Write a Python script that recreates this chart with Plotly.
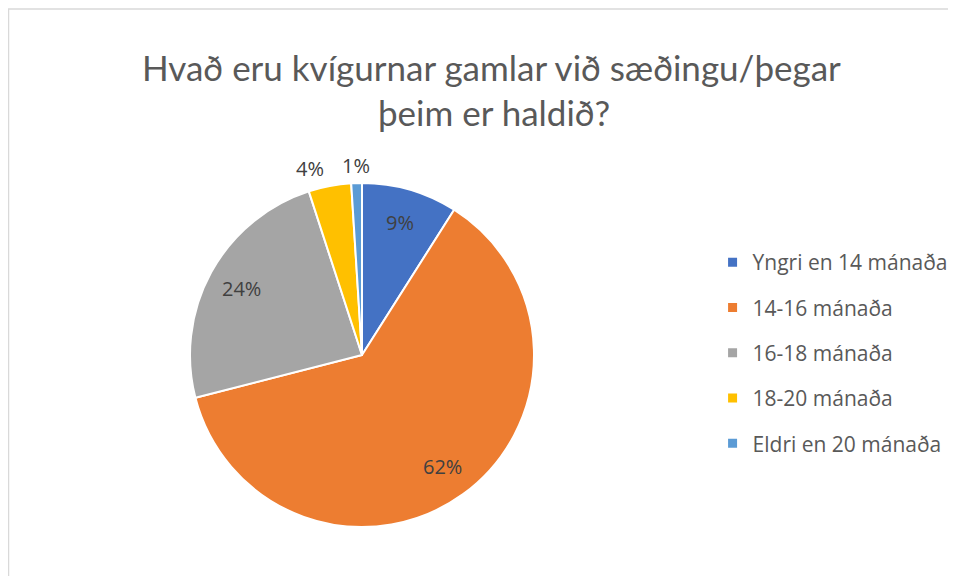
import numpy as np
import plotly.graph_objects as go

categories = ["Yngri en 14 mánaða", "14-16 mánaða", "16-18 mánaða", "18-20 mánaða", "Eldri en 20 mánaða"]
shares = [9, 62, 24, 4, 1]
colors = ["#4472C4", "#ED7D31", "#A5A5A5", "#FFC000", "#5B9BD5"]
inside = [True, True, True, False, False]   # small slices get their label outside

W, H = 956, 576
TITLE_FONT = "Lato, sans-serif"
FONT = "'Open Sans', sans-serif"
LABEL_FONT = dict(family=FONT, size=20, color="#404040")

# pie geometry in figure pixels (page is offset by the 8px body margin)
cx, cy, r = 354, 347, 172

fig = go.Figure()
fig.add_trace(go.Pie(
    labels=categories, values=shares, sort=False, direction="clockwise", rotation=0,
    marker=dict(colors=colors, line=dict(color="white", width=2)),
    textinfo="none", showlegend=False, hoverinfo="skip",
    domain=dict(x=[(cx - r) / W, (cx + r) / W], y=[1 - (cy + r) / H, 1 - (cy - r) / H]),
))

# percent labels at each slice's mid angle, Excel style (well out from the centre)
vals = np.array(shares, dtype=float)
mid = (np.cumsum(vals) - vals / 2) / vals.sum() * 2 * np.pi
for v, ang, ins in zip(shares, mid, inside):
    sx, sy = np.sin(ang), np.cos(ang)
    if ins:
        d, xa = 0.8 * r, "center"
    else:
        d, xa = r + 18, "right" if sx < -0.1 else "center"
    fig.add_annotation(x=(cx + d * sx) / W, y=1 - (cy - d * sy) / H,
                       xref="paper", yref="paper", text=f"{v}%", showarrow=False,
                       xanchor=xa, yanchor="middle", font=LABEL_FONT)

# legend entries, one group each so the gap between rows can be set
for i, (name, c) in enumerate(zip(categories, colors)):
    fig.add_trace(go.Scatter(x=[None], y=[None], mode="markers", name=name,
                             legendgroup=str(i),
                             marker=dict(symbol="square", size=9, color=c)))

fig.add_annotation(x=483 / W, y=1 - 82 / H, xref="paper", yref="paper", yanchor="bottom",
                   text="Hvað eru kvígurnar gamlar við sæðingu/þegar", showarrow=False,
                   font=dict(family=TITLE_FONT, size=35, color="#595959"))
fig.add_annotation(x=486 / W, y=1 - 127 / H, xref="paper", yref="paper", yanchor="bottom",
                   text="þeim er haldið?", showarrow=False,
                   font=dict(family=TITLE_FONT, size=35, color="#595959"))

fig.update_layout(
    width=W, height=H,
    paper_bgcolor="white", plot_bgcolor="white",
    margin=dict(l=0, r=0, t=0, b=0),
    xaxis=dict(visible=False), yaxis=dict(visible=False),
    legend=dict(x=0.737, xanchor="left", y=1 - 345 / H, yanchor="middle",
                tracegroupgap=15, itemwidth=30,
                font=dict(family=FONT, size=21, color="#595959")),
    shapes=[dict(type="rect", xref="paper", yref="paper",
                 x0=0.5 / W, x1=1.01, y0=-0.01, y1=1 - 1 / H,
                 line=dict(color="#D9D9D9", width=1.5))],
)

fig.write_html("out.html")
